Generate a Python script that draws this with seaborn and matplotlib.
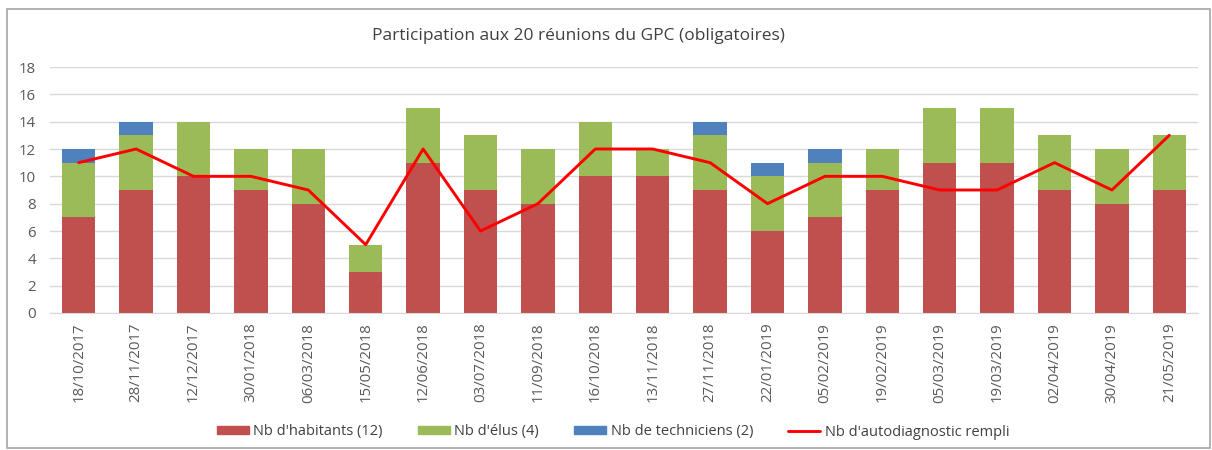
import numpy as np
import pandas as pd
import matplotlib
matplotlib.use("Agg")
import matplotlib.pyplot as plt
from matplotlib.patches import Patch, Rectangle
from matplotlib.lines import Line2D
import seaborn as sns

# Données
dates = ['18/10/2017', '28/11/2017', '12/12/2017', '30/01/2018', '06/03/2018',
         '15/05/2018', '12/06/2018', '03/07/2018', '11/09/2018', '16/10/2018',
         '13/11/2018', '27/11/2018', '22/01/2019', '05/02/2019', '19/02/2019',
         '05/03/2019', '19/03/2019', '02/04/2019', '30/04/2019', '21/05/2019']
habitants = [7, 9, 10, 9, 8, 3, 11, 9, 8, 10, 10, 9, 6, 7, 9, 11, 11, 9, 8, 9]
elus = [4, 4, 4, 3, 4, 2, 4, 4, 4, 4, 2, 4, 4, 4, 3, 4, 4, 4, 4, 4]
techniciens = [1, 1, 0, 0, 0, 0, 0, 0, 0, 0, 0, 1, 1, 1, 0, 0, 0, 0, 0, 0]
autodiag = [11, 12, 10, 10, 9, 5, 12, 6, 8, 12, 12, 11, 8, 10, 10, 9, 9, 11, 9, 13]

labels = ["Nb d'habitants (12)", "Nb d'élus (4)", "Nb de techniciens (2)",
          "Nb d'autodiagnostic rempli"]
colors = ['#C0504D', '#9BBB59', '#4F81BD']
line_color = '#FF0000'

sns.set_style("white")
plt.rcParams['font.family'] = ['Open Sans', 'DejaVu Sans']

df = pd.DataFrame({'date': dates, 'hab': habitants, 'elus': elus,
                   'tech': techniciens, 'auto': autodiag})
df['cum2'] = df['hab'] + df['elus']
df['cum3'] = df['cum2'] + df['tech']

fig = plt.figure(figsize=(12.12, 4.5), dpi=100)
ax = fig.add_axes([50 / 1212, 1 - 313 / 450, 1148 / 1212, 246 / 450])

# barres empilées : on dessine les cumuls du plus haut au plus bas
for col, c in zip(['cum3', 'cum2', 'hab'], [colors[2], colors[1], colors[0]]):
    sns.barplot(data=df, x='date', y=col, color=c, width=0.58,
                saturation=1, linewidth=0, ax=ax, zorder=2)
sns.lineplot(x=np.arange(len(dates)), y=df['auto'].values, color=line_color,
             linewidth=2.1, ax=ax, zorder=3)

ax.set_ylim(0, 18)
ax.set_xlim(-0.5, len(dates) - 0.5)
ax.set_yticks(range(0, 19, 2))
ax.yaxis.grid(True, color='#D9D9D9', linewidth=1, zorder=0)
ax.set_axisbelow(True)
ax.set_xlabel('')
ax.set_ylabel('')
for s in ['top', 'right', 'left']:
    ax.spines[s].set_visible(False)
ax.spines['bottom'].set_color('#D9D9D9')
ax.tick_params(axis='both', length=0, labelsize=10.8, colors='#595959')
ax.tick_params(axis='x', pad=7)
ax.tick_params(axis='y', pad=10)
ax.set_xticks(range(len(dates)))
ax.set_xticklabels(dates, rotation=90)

fig.text(578 / 1212, 1 - 36 / 450, 'Participation aux 20 réunions du GPC (obligatoires)',
         ha='center', va='center', fontsize=12.5, color='#404040')

handles = [Patch(color=colors[0]), Patch(color=colors[1]), Patch(color=colors[2]),
           Line2D([0], [0], color=line_color, linewidth=2.1)]
fig.legend(handles, labels, loc='center', bbox_to_anchor=(613 / 1212, 1 - 432 / 450),
           ncol=4, frameon=False, fontsize=10.5, handlelength=2.2,
           handleheight=0.45, handletextpad=0.3, columnspacing=2.4,
           labelcolor='#404040')

# cadre de la zone de graphique
fig.add_artist(Rectangle((7 / 1212, 2 / 450), 1203 / 1212, 439 / 450,
                         transform=fig.transFigure, fill=False,
                         edgecolor='#A6A6A6', linewidth=1.2))

fig.savefig('out.png', dpi=100)
